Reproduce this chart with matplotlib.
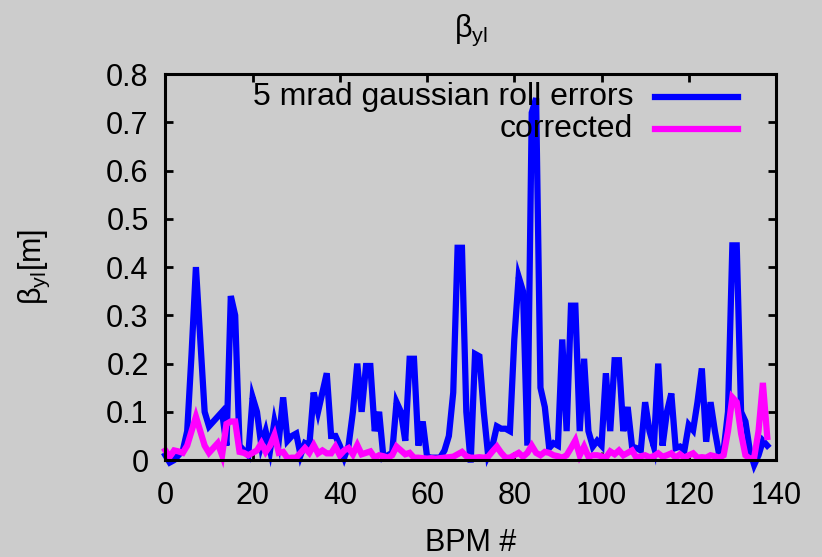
import matplotlib
matplotlib.use("Agg")
import matplotlib.pyplot as plt
import numpy as np

# BPM index and beta_yl values
bpm = list(range(139))

roll_errors = [
    0.01, -0.005, 0.0, 0.01, 0.02, 0.06, 0.22, 0.40, 0.25, 0.10,
    0.07, 0.08, 0.09, 0.10, 0.03, 0.34, 0.30, 0.03, 0.02, 0.01,
    0.13, 0.10, 0.03, 0.06, 0.02, 0.08, 0.04, 0.13, 0.04, 0.05,
    0.055, 0.01, 0.035, 0.03, 0.14, 0.10, 0.14, 0.18, 0.05, 0.05,
    0.03, 0.005, 0.03, 0.10, 0.20, 0.10, 0.195, 0.195, 0.06, 0.10,
    0.005, 0.01, 0.015, 0.12, 0.10, 0.04, 0.21, 0.21, 0.03, 0.08,
    0.007, 0.005, 0.005, 0.005, 0.02, 0.05, 0.14, 0.44, 0.44, 0.10,
    -0.005, 0.22, 0.215, 0.10, 0.01, 0.03, 0.07, 0.065, 0.065, 0.06,
    0.25, 0.38, 0.35, 0.03, 0.72, 0.75, 0.15, 0.11, 0.025, 0.035,
    0.03, 0.25, 0.06, 0.32, 0.32, 0.06, 0.21, 0.06, 0.028, 0.04,
    0.03, 0.18, 0.06, 0.207, 0.207, 0.06, 0.11, 0.028, 0.025, 0.02,
    0.12, 0.06, 0.028, 0.20, 0.03, 0.10, 0.138, 0.025, 0.028, 0.02,
    0.073, 0.062, 0.12, 0.19, 0.038, 0.12, 0.06, 0.01, 0.02, 0.10,
    0.445, 0.445, 0.10, 0.08, 0.02, -0.01, 0.01, 0.04, 0.03,
]

corrected = [
    0.02, 0.007, 0.02, 0.018, 0.015, 0.03, 0.06, 0.09, 0.06, 0.03,
    0.015, 0.025, 0.035, 0.01, 0.075, 0.08, 0.08, 0.017, 0.015, 0.01,
    0.015, 0.02, 0.035, 0.017, 0.03, 0.052, 0.015, 0.017, 0.004, 0.005,
    0.005, 0.015, 0.025, 0.015, 0.031, 0.014, 0.02, 0.014, 0.014, 0.028,
    0.01, 0.02, 0.025, 0.012, 0.031, 0.012, 0.015, 0.018, 0.005, 0.01,
    0.008, 0.005, 0.01, 0.028, 0.02, 0.012, 0.015, 0.005, 0.005, 0.004,
    0.003, 0.004, 0.003, 0.004, 0.005, 0.006, 0.007, 0.012, 0.017, 0.008,
    0.005, 0.005, 0.006, 0.005, 0.007, 0.018, 0.028, 0.015, 0.005, 0.005,
    0.01, 0.015, 0.007, 0.015, 0.03, 0.015, 0.01, 0.017, 0.015, 0.01,
    0.008, 0.005, 0.01, 0.025, 0.041, 0.01, 0.028, 0.007, 0.01, 0.01,
    0.008, 0.005, 0.018, 0.012, 0.02, 0.01, 0.015, 0.02, 0.005, 0.008,
    0.01, 0.006, 0.008, 0.014, 0.007, 0.01, 0.014, 0.005, 0.012, 0.005,
    0.01, 0.014, 0.005, 0.006, 0.005, 0.01, 0.008, 0.005, 0.01, 0.06,
    0.13, 0.12, 0.055, 0.01, 0.003, 0.005, 0.06, 0.16, 0.048,
]

labels = ["5 mrad gaussian roll errors", "corrected"]
colors = ["#0000ff", "#ff00ff"]
xticks = [0, 20, 40, 60, 80, 100, 120, 140]
yticks = [0, 0.1, 0.2, 0.3, 0.4, 0.5, 0.6, 0.7, 0.8]
ytick_labels = ["0", "0.1", "0.2", "0.3", "0.4", "0.5", "0.6", "0.7", "0.8"]

plt.rcParams["font.family"] = ["Liberation Sans", "DejaVu Sans"]
plt.rcParams["mathtext.fontset"] = "custom"
plt.rcParams["mathtext.rm"] = "Liberation Sans"

FS = 22
bg = "#cccccc"
fig = plt.figure(figsize=(8.22, 5.57), dpi=100, facecolor=bg)
ax = fig.add_axes([0.2012, 0.174, 0.7428, 0.693], facecolor=bg)

for ys, c in zip([roll_errors, corrected], colors):
    ax.plot(bpm, ys, color=c, lw=4.5, solid_joinstyle="miter", clip_on=False,
            zorder=3)

ax.set_xlim(0, 140)
ax.set_ylim(0, 0.8)
ax.set_xticks(xticks)
ax.set_yticks(yticks)
ax.set_yticklabels(ytick_labels)
ax.tick_params(direction="in", length=6, width=2, labelsize=FS,
               top=True, right=True, colors="black")
ax.tick_params(axis="x", pad=15)
ax.tick_params(axis="y", pad=12)
for s in ax.spines.values():
    s.set_linewidth(2.2)
    s.set_zorder(4)

ax.set_xlabel("BPM #", fontsize=FS, va="center")
ax.xaxis.set_label_coords(0.5, -0.215)
ax.set_ylabel(r"β$_\mathregular{yl}$[m]", fontsize=FS, va="center")
ax.yaxis.set_label_coords(-0.214, 0.5)
fig.text(0.573, 1 - 30 / 557, r"β$_\mathregular{yl}$", fontsize=FS,
         ha="center", va="center")

# right-aligned legend (gnuplot style)
for k, (lab, c) in enumerate(zip(labels, colors)):
    yy = 0.94 - k * 0.083
    ax.text(0.766, yy, lab, transform=ax.transAxes, ha="right", va="center",
            fontsize=23)
    ax.plot([0.8015, 0.937], [yy, yy], transform=ax.transAxes, color=c, lw=4.5)

fig.savefig("out.png", dpi=100, facecolor=bg)
